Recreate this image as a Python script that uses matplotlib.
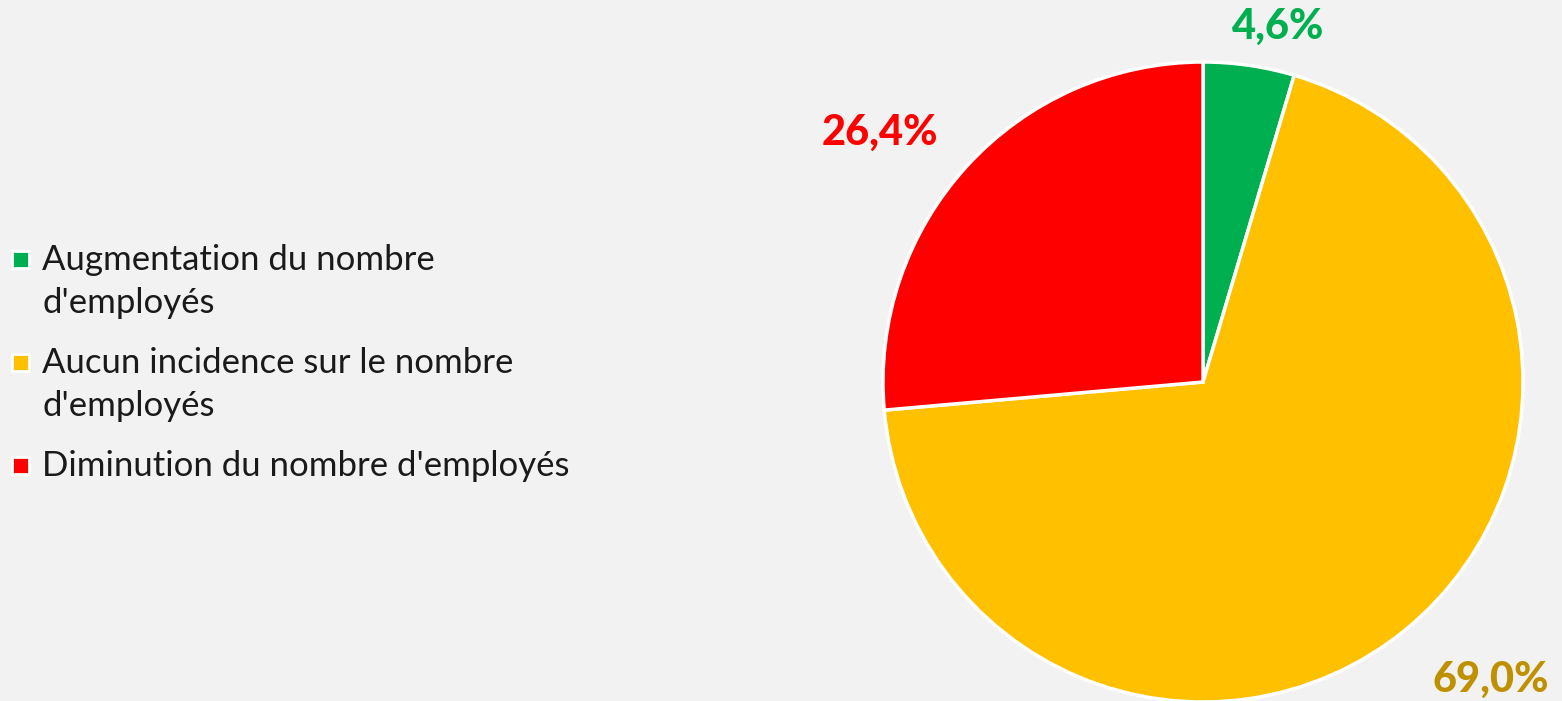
import matplotlib.pyplot as plt
from matplotlib.patches import Rectangle

labels = ["Augmentation du nombre\nd'employés",
          "Aucun incidence sur le nombre\nd'employés",
          "Diminution du nombre d'employés"]
values = [4.6, 69.0, 26.4]
colors = ["#00B050", "#FFC000", "#FF0000"]
label_colors = ["#00B050", "#BF9000", "#FF0000"]
pct_text = ["4,6%", "69,0%", "26,4%"]

W, H = 1562, 701
fig = plt.figure(figsize=(W / 100, H / 100), dpi=100, facecolor="#F2F2F2")

# pie: center (1203, 382) px, radius 320 px
cx, cy, r = 1203, 382, 320
ax = fig.add_axes([(cx - r) / W, (H - cy - r) / H, 2 * r / W, 2 * r / H])
ax.set_facecolor("none")
wedges, _ = ax.pie(values, colors=colors, startangle=90, counterclock=False,
                   radius=1, wedgeprops=dict(edgecolor="white", linewidth=2.5))
for w in wedges:
    w.set_clip_on(False)
ax.set_xlim(-1, 1)
ax.set_ylim(-1, 1)
ax.set_aspect("equal")
ax.axis("off")

# percentage labels
label_pos = [(0.234, 1.11), (0.90, -0.93), (-1.01, 0.78)]
for (x, y), t, c in zip(label_pos, pct_text, label_colors):
    ax.text(x, y, t, color=c, fontsize=30, fontweight="black", family="Lato",
            ha="center", va="center", clip_on=False)

# legend, drawn by hand so the swatch sits on the first line
baseline = 270      # px from top
line_step = 43
item_gap = 60
sq = 17
for lab, c in zip(labels, colors):
    fig.patches.append(Rectangle((12 / W, 1 - (baseline - 2) / H), sq / W, sq / H,
                                 transform=fig.transFigure, facecolor=c,
                                 edgecolor="white", linewidth=2))
    for k, line in enumerate(lab.split("\n")):
        fig.text(42 / W, 1 - (baseline + k * line_step) / H, line,
                 family="Lato", size=25, color="#1a1a1a", va="baseline")
    baseline += (len(lab.split("\n")) - 1) * line_step + item_gap

fig.savefig("out.png", dpi=100, facecolor=fig.get_facecolor())
